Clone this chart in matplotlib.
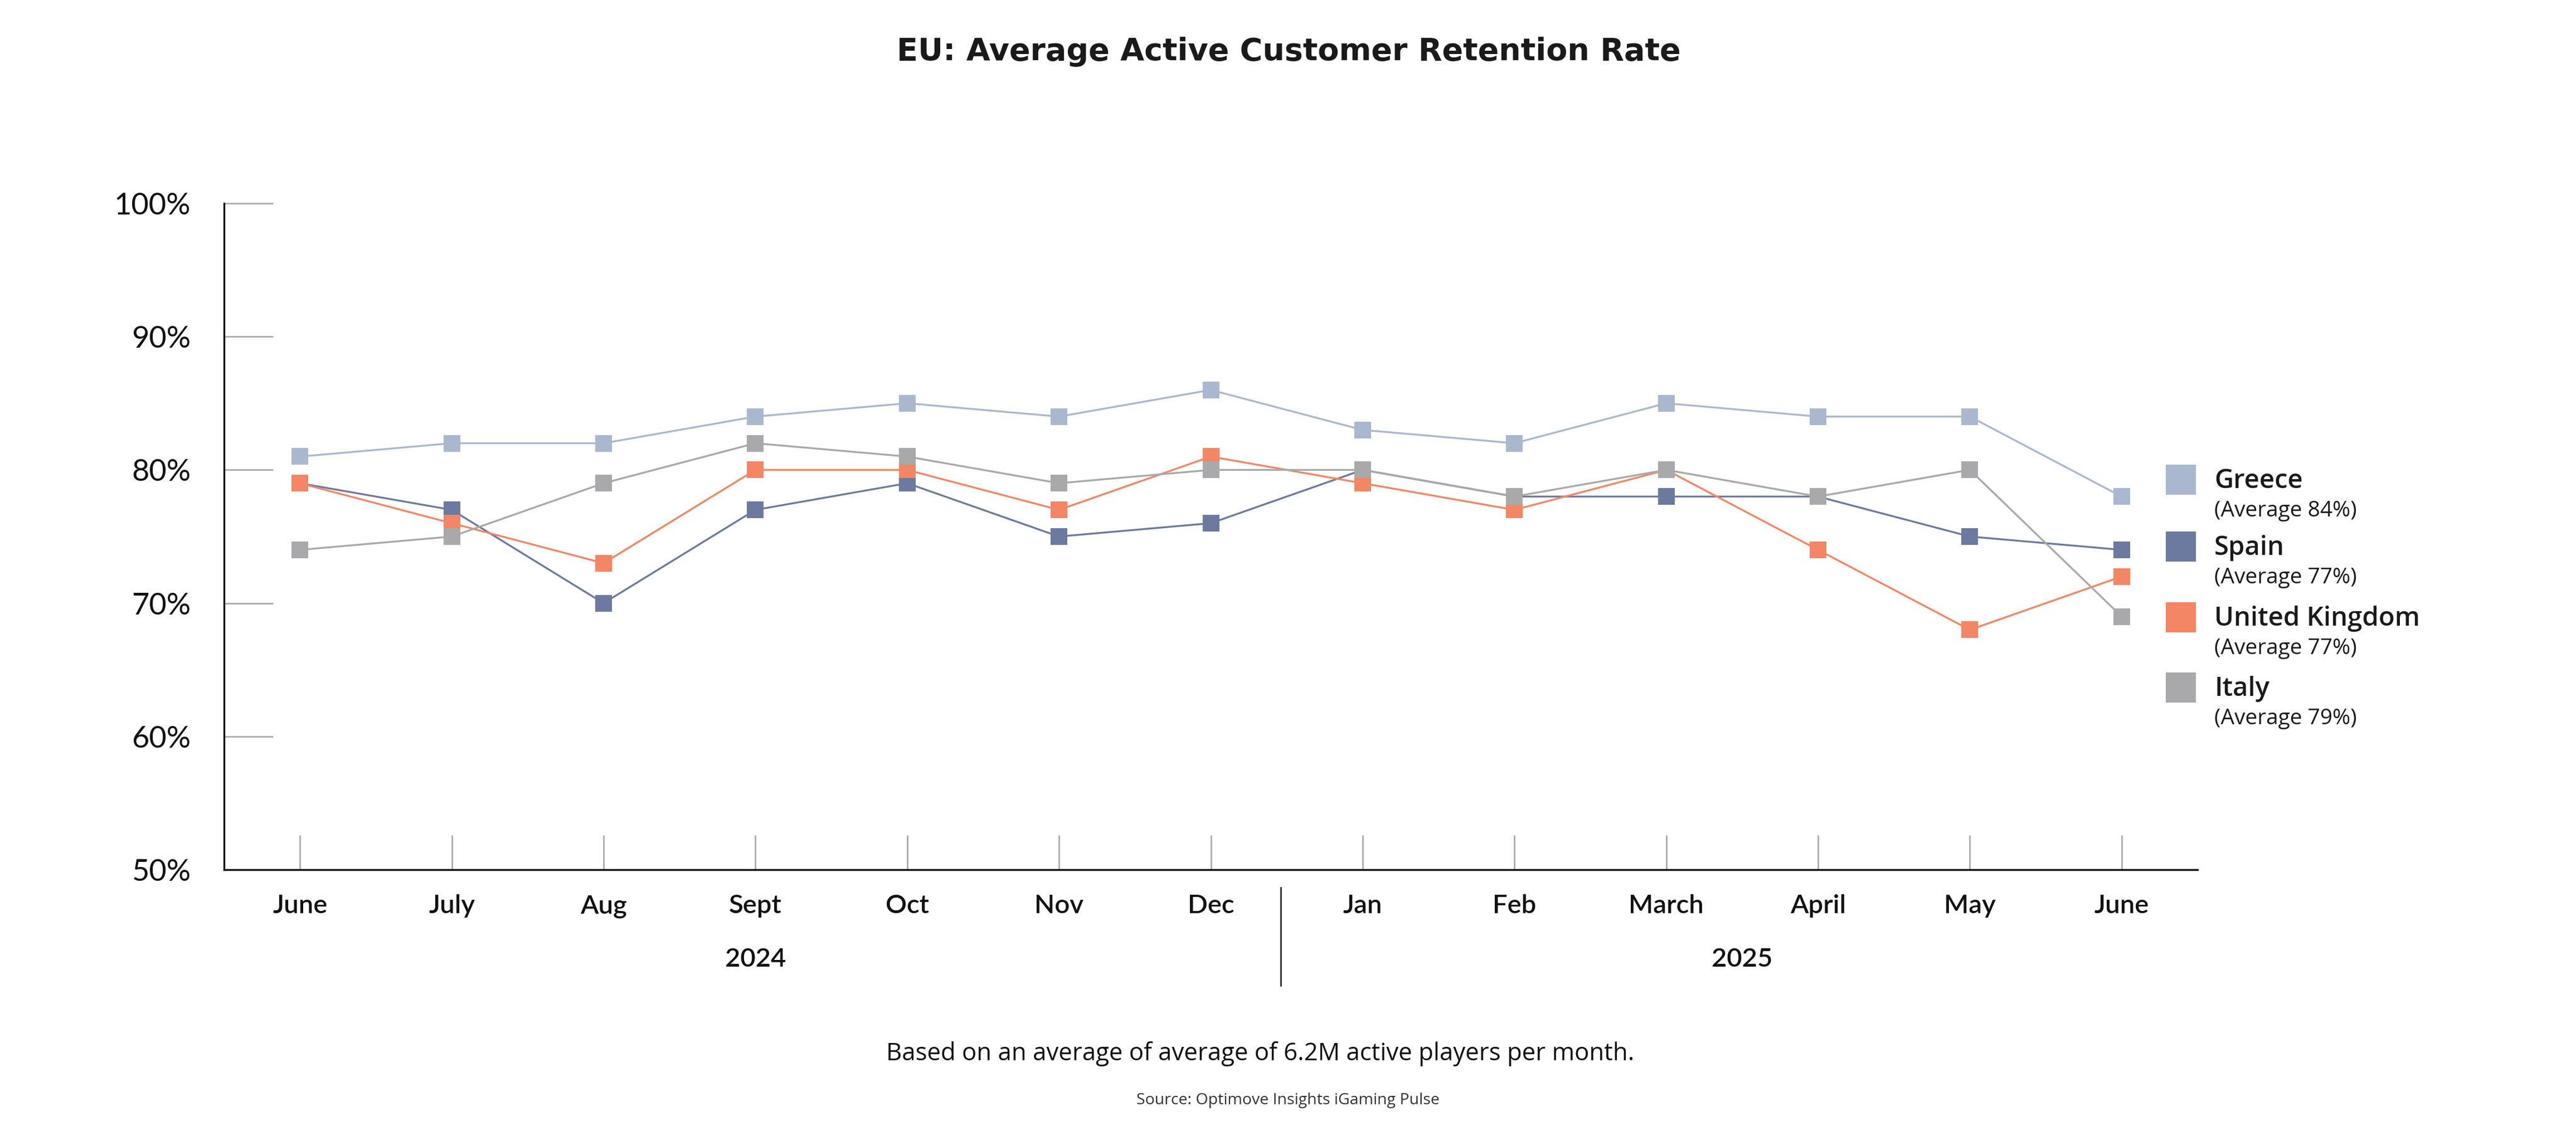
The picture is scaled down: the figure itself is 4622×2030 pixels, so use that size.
import matplotlib
matplotlib.use('Agg')
import matplotlib.pyplot as plt
from matplotlib.patches import Rectangle
import matplotlib.transforms as mtransforms

# ---------------- data ----------------
months = ['June', 'July', 'Aug', 'Sept', 'Oct', 'Nov', 'Dec',
          'Jan', 'Feb', 'March', 'April', 'May', 'June']
years = ['2024', '2025']
year_spans = [(0, 6), (7, 12)]
countries = ['Greece', 'Spain', 'United Kingdom', 'Italy']
averages = [84, 77, 77, 79]
greece = [81, 82, 82, 84, 85, 84, 86, 83, 82, 85, 84, 84, 78]
spain = [79, 77, 70, 77, 79, 75, 76, 80, 78, 78, 78, 75, 74]
uk = [79, 76, 73, 80, 80, 77, 81, 79, 77, 80, 74, 68, 72]
italy = [74, 75, 79, 82, 81, 79, 80, 80, 78, 80, 78, 80, 69]
yticks = [50, 60, 70, 80, 90, 100]

colors = ['#A9B8CF', '#6B7A9E', '#F38664', '#A9A9AB']
series = [greece, spain, uk, italy]

FONT = ['Lato', 'DejaVu Sans']
WIDE = ['Open Sans', 'DejaVu Sans']
plt.rcParams['font.family'] = FONT

W, H = 4622, 2030
fig = plt.figure(figsize=(W / 100, H / 100), dpi=100)
fig.patch.set_facecolor('white')


def fx(px):
    return px / W


def fy(py):
    return 1 - py / H


ax = fig.add_axes([fx(402), fy(1561), fx(3943) - fx(402), fy(365) - fy(1561)])

x = list(range(len(months)))
for vals, c in zip(series, colors):
    ax.plot(x, vals, color=c, lw=2.4, marker='s', ms=21, mew=0, zorder=3)

ax.set_xlim(-0.5, 12.5)
ax.set_ylim(50, 100)
ax.set_yticks(yticks)
ax.set_yticklabels([f'{v}%' for v in yticks])
ax.set_xticks(x)
ax.set_xticklabels([])

for s in ['top', 'right']:
    ax.spines[s].set_visible(False)
for s in ['left', 'bottom']:
    ax.spines[s].set_linewidth(2.4)
    ax.spines[s].set_color('#111111')

ax.tick_params(axis='y', direction='in', length=63, width=2, color='#AAAAAA',
               pad=43, labelsize=39, labelcolor='#111111')
ax.tick_params(axis='x', direction='in', length=45, width=2, color='#AAAAAA')

# month labels and year labels
trans = mtransforms.blended_transform_factory(ax.transData, fig.transFigure)
for i, m in enumerate(months):
    ax.text(i, fy(1639), m, transform=trans, ha='center', va='baseline',
            fontsize=34, color='#111111', fontweight='semibold')
for yr, (a, b) in zip(years, year_spans):
    ax.text((a + b) / 2, fy(1735), yr, transform=trans, ha='center', va='baseline',
            fontsize=34, color='#111111', fontweight='semibold')
ax.plot([6.46, 6.46], [fy(1593), fy(1769)], transform=trans, color='#111111',
        lw=1.8, clip_on=False)

# title
fig.text(fx(2312), fy(108), 'EU: Average Active Customer Retention Rate',
         ha='center', va='baseline', fontsize=40, fontweight='bold', color='#1a1a1a',
         family=['DejaVu Sans'])

# footnotes
fig.text(fx(2261), fy(1903), 'Based on an average of average of 6.2M active players per month.',
         ha='center', va='baseline', fontsize=31.5, color='#111111', family=WIDE)
fig.text(fx(2311), fy(1982), 'Source: Optimove Insights iGaming Pulse',
         ha='center', va='baseline', fontsize=20.5, color='#333333', family=WIDE)

# legend
centers = [861, 981, 1108, 1234]
for name, avg, c, cy in zip(countries, averages, colors, centers):
    fig.patches.append(Rectangle((fx(3886), fy(cy + 27)), 54 / W, 54 / H,
                                 transform=fig.transFigure, facecolor=c, edgecolor='none'))
    fig.text(fx(3973), fy(cy + 15), name, ha='left', va='baseline', fontsize=34,
             fontweight='semibold', color='#1a1a1a', family=WIDE)
    fig.text(fx(3973), fy(cy + 66), f'(Average {avg}%)', ha='left', va='baseline',
             fontsize=28, color='#1a1a1a', family=WIDE)

fig.savefig('out.png', dpi=100, facecolor='white')
